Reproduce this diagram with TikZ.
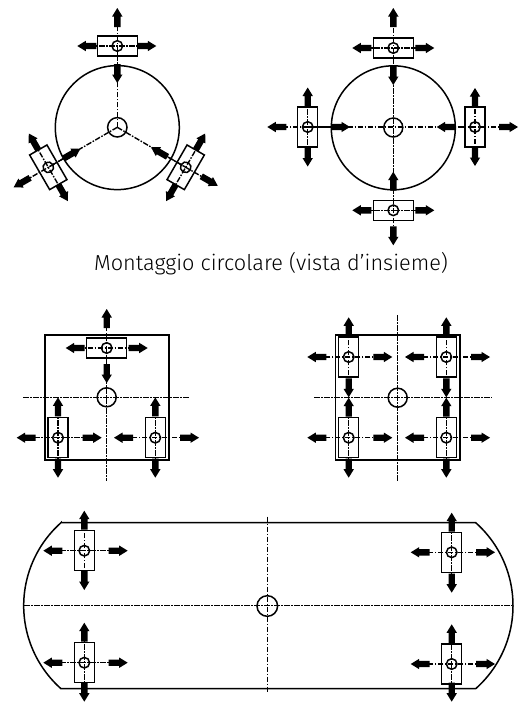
\documentclass[tikz,border=0pt]{standalone}
\usepackage{fontspec}
\setmainfont{Fira Sans Light}
\tikzset{
  outline/.style={line width=1.5pt,draw=black},
  cline/.style={line width=1.4pt,draw=black,dash pattern=on 5.5pt off 1.5pt on 1.5pt off 1.5pt},
  fatarrow/.style={fill=black,draw=none},
}
% arrow pointing along #1 degrees with its tip #2 from the current origin
\newcommand\fa[2]{\begin{scope}[rotate=#1,xshift=#2pt]
  \path[fatarrow] (-19,-3.2) -- (-8.5,-3.2) -- (-8.5,-5.2) -- (0,0) -- (-8.5,5.2) -- (-8.5,3.2) -- (-19,3.2) -- cycle;
\end{scope}}
% mount: x, y (image px), rotation, tips along E, N, W, S of its own frame
\newcommand\mnt[7]{\begin{scope}[shift={(#1,-#2)},rotate=#3]
  \draw[outline] (-20,-10) rectangle (20,10);
  \draw[outline] (0,0) circle (5.3);
  \draw[cline] ({-(#6)+12},0) -- ({#4-12},0);
  \draw[cline] (0,{-(#7)+12}) -- (0,{#5-12});
  \fa{0}{#4}\fa{90}{#5}\fa{180}{#6}\fa{270}{#7}
\end{scope}}
\begin{document}
\begin{tikzpicture}[x=1pt,y=1pt]
\useasboundingbox (0,0) rectangle (520,-702);
\fill[white] (0,0) rectangle (520,-702);
% Three-point circular mounting
\draw[outline] (117.3,-127.6) circle (62);
\draw[outline] (117.3,-127.3) circle (9.7);
\draw[cline] (117.3,-127.3) -- (117.3,-46);
\draw[cline] (117.3,-127.3) -- (48.3,-167.3);
\draw[cline] (117.3,-127.3) -- (185.7,-167.3);
\mnt{117.3}{46}{0}{39}{38}{40}{37}
\mnt{48.3}{167.3}{-60}{39}{37}{39}{40}
\mnt{185.7}{167.3}{60}{39}{40}{39}{37}
% Four-point circular mounting
\draw[outline] (393.3,-127.8) circle (62);
\draw[outline] (393.3,-127.5) circle (9.5);
\draw[cline] (393.3,-48) -- (393.3,-210);
\draw[cline] (307.7,-127) -- (475,-127);
\mnt{393.3}{48}{0}{41}{40}{41}{37}
\mnt{393.3}{210.3}{0}{41}{38.6}{41}{35}
\mnt{307.7}{127}{90}{39.5}{40.4}{39.5}{42.3}
\mnt{475}{127}{90}{39}{38.3}{39}{43}
% Caption
\node[font=\fontsize{21.7}{24}\selectfont,inner sep=0pt,anchor=center] (cap) at (271,-264) {Montaggio circolare (vista d’insieme)};
% Three-point square mounting
\draw[outline] (45,-335) rectangle (169,-460);
\draw[outline] (106.7,-397.3) circle (9.5);
\draw[cline] (23,-397.3) -- (189,-397.3);
\draw[cline] (106.7,-348) -- (106.7,-480.7);
\mnt{106.7}{348}{0}{41}{39}{41}{35}
\mnt{58}{437.7}{90}{40.3}{41.3}{40}{43.7}
\mnt{155.3}{437.7}{90}{40.3}{41.3}{40}{43.7}
% Four-point square mounting
\draw[outline] (335.7,-335) rectangle (460,-460);
\draw[outline] (397.7,-397.7) circle (9.5);
\draw[cline] (314,-397.7) -- (491.7,-397.7);
\draw[cline] (397.7,-315) -- (397.7,-480.7);
\mnt{348.7}{357}{90}{39.7}{41.4}{40.3}{43.6}
\mnt{446.3}{357}{90}{39.7}{41.3}{40.3}{43.7}
\mnt{348.7}{437.7}{90}{40}{41.4}{40}{43.6}
\mnt{446.3}{437.7}{90}{40}{41.3}{40}{43.7}
% Long platform
\draw[outline] (61,-522.7) -- (475.7,-522.7) arc[start angle=48.4,end angle=-48.4,radius=111] -- (61,-688.7) arc[start angle=228.4,end angle=131.6,radius=111] -- cycle;
\draw[outline] (267.3,-606) circle (10.3);
\draw[cline] (24,-605.7) -- (512,-605.7);
\draw[cline] (267.3,-516.7) -- (267.3,-691.7);
\mnt{84.3}{550.7}{90}{40}{41}{39.3}{43.4}
\mnt{84.3}{662.7}{90}{40}{41}{39}{43.4}
\mnt{451.7}{552.3}{90}{39.6}{41}{40.4}{43.3}
\mnt{451.7}{664}{90}{39.7}{41}{37.7}{43.3}
\end{tikzpicture}
\end{document}
